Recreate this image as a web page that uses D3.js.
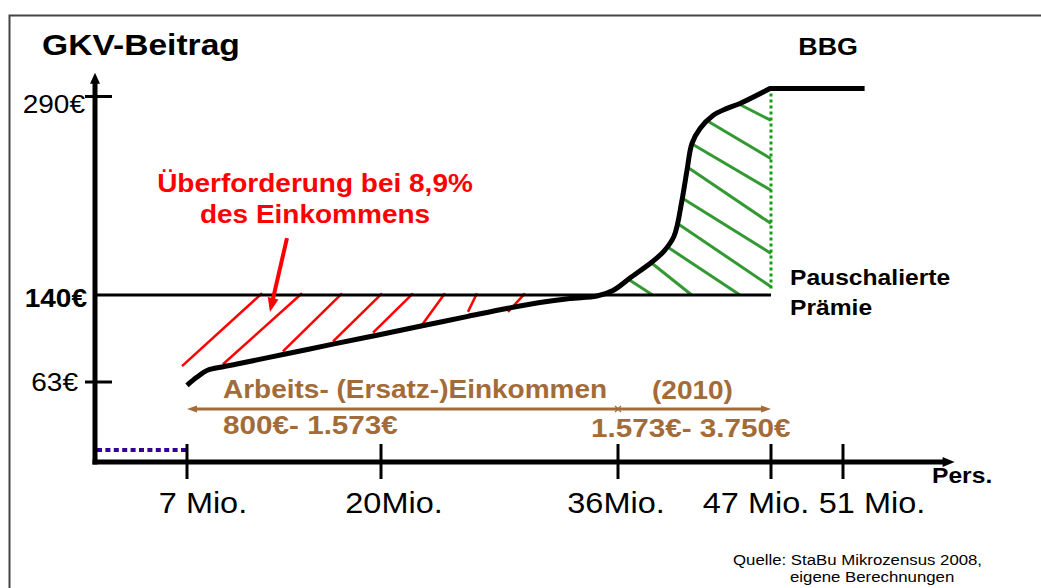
<!DOCTYPE html>
<html><head><meta charset="utf-8">
<script src="https://cdn.jsdelivr.net/npm/d3@7"></script>
<style>
html,body{margin:0;padding:0;background:#fff;}
svg{display:block;}
text{font-family:"Liberation Sans",Arial,Helvetica,sans-serif;}
</style>
</head><body>
<svg id="chart" width="1041" height="588"></svg>
<script>
// ---------------- data ----------------
const xTickValues = [7, 20, 36, 47, 51];
const xTickLabels = ["7 Mio.", "20Mio.", "36Mio.", "47 Mio.", "51 Mio."];
const yTickValues = [63, 140, 290];
const yTickLabels = ["63€", "140€", "290€"];

// GKV contribution curve (persons in Mio, contribution in €)
const contributionMio  = [7, 7.67, 8.41, 9.35, 10.35, 13.43, 16.78, 19.73, 22.63, 25.87, 28.57, 30.73, 32.76, 34.58, 35.66, 36.86, 38.44, 39.31, 40.03, 40.6, 40.96, 41.32, 41.9, 42.83, 43.84, 44.77, 46.93, 52.2];
const contributionEuro = [60.4, 67.4, 73.6, 76.3, 78.9, 87.3, 96.5, 104.4, 112.3, 121.1, 128.3, 133.4, 136.9, 139.1, 143.4, 152.8, 164.9, 173.2, 184.5, 211.6, 234.2, 254.6, 265.9, 275.7, 281.0, 284.7, 296, 296];

// flat premium ("Pauschalierte Prämie")
const premiumEuro = [140];
const premiumRangeMio = [0, 47];

// BBG border (dotted green)
const bbgMio = [47];
const bbgRangeEuro = [145, 296];

// family co-insured (dotted purple)
const coInsuredRangeMio = [0, 7];
const coInsuredEuro = [9.5];

// red hatching: overburden
const redHatchFromMio  = [6.62, 9.41, 13.43, 16.79, 19.47, 22.63, 25.87, 28.57];
const redHatchFromEuro = [77, 78.75, 90.1, 98.9, 106.75, 111.1, 125.1, 125.1];
const redHatchToMio    = [12.03, 14.71, 17.39, 20.07, 22.16, 24.32, 26.48, 29.72];
const redHatchToEuro   = [141.3, 141.3, 141.3, 141.3, 141.3, 141.3, 141.3, 141.3];

// green hatching
const greenHatchFromMio  = [36.63, 38.30, 39.54, 40.28, 40.66, 40.98, 41.30, 42.38, 44.65];
const greenHatchFromEuro = [152.6, 165.1, 176.4, 194, 212.9, 236.7, 254.3, 271.9, 284.5];
const greenHatchToMio    = [38.49, 41.30, 44.77, 47, 47, 47, 47, 47, 47];
const greenHatchToEuro   = [140, 140, 140, 146.3, 171.4, 194, 219.1, 243, 271.9];

// red pointer arrow
const pointerFrom = [13.7, 183];
const pointerTo   = [12.56, 125];

// income range arrows
const incomeFromMio = [36, 36];
const incomeToMio   = [7, 47];
const incomeLabels  = ["800€- 1.573€", "1.573€- 3.750€"];

// axis extents
const xAxisMaxMio = 57.2;
const yAxisMaxEuro = 308;

// ---------------- drawing ----------------
const svg = d3.select("#chart");
const SX = 1.12; // horizontal stretch of slide text

const x = d3.scaleLinear().domain([0, 7, 20, 36, 47, 51]).range([95, 187, 381, 618, 771, 843]);
const y = d3.scaleLinear().domain([0, 63, 140, 290]).range([462, 382, 295, 96.5]);

function label(sel, px, py, str, o) {
  const g = sel.append("g").attr("transform", `translate(${px},${py}) scale(${o.sx || SX},1)`);
  g.append("text")
    .attr("text-anchor", o.anchor || "start")
    .attr("font-size", o.size)
    .attr("font-weight", o.weight || "normal")
    .attr("fill", o.fill || "#000")
    .text(str);
  return g;
}

function arrowHead(sel, x1, y1, x2, y2, len, halfW, color) {
  const a = Math.atan2(y2 - y1, x2 - x1);
  const bx = x2 - len * Math.cos(a), by = y2 - len * Math.sin(a);
  const nx = -Math.sin(a) * halfW, ny = Math.cos(a) * halfW;
  sel.append("path")
    .attr("d", `M${x2},${y2}L${bx + nx},${by + ny}L${bx - nx},${by - ny}Z`)
    .attr("fill", color);
  return [x2 - (len - 1) * Math.cos(a), y2 - (len - 1) * Math.sin(a)];
}

// frame
svg.append("path").attr("d", "M9.5,600V15.5H1100")
  .attr("fill", "none").attr("stroke", "#444").attr("stroke-width", 2);

// red hatch
svg.append("g").selectAll("line").data(redHatchFromMio).join("line")
  .attr("x1", (d, i) => x(d)).attr("y1", (d, i) => y(redHatchFromEuro[i]))
  .attr("x2", (d, i) => x(redHatchToMio[i])).attr("y2", (d, i) => y(redHatchToEuro[i]))
  .attr("stroke", "#ff0000").attr("stroke-width", 2.5);

// green hatch
svg.append("g").selectAll("line").data(greenHatchFromMio).join("line")
  .attr("x1", (d, i) => x(d)).attr("y1", (d, i) => y(greenHatchFromEuro[i]))
  .attr("x2", (d, i) => x(greenHatchToMio[i])).attr("y2", (d, i) => y(greenHatchToEuro[i]))
  .attr("stroke", "#339933").attr("stroke-width", 3);

// premium line
svg.append("g").selectAll("line").data(premiumEuro).join("line")
  .attr("x1", x(premiumRangeMio[0])).attr("x2", x(premiumRangeMio[1]))
  .attr("y1", d => y(d)).attr("y2", d => y(d))
  .attr("stroke", "#000").attr("stroke-width", 3);

// BBG dotted
svg.append("g").selectAll("line").data(bbgMio).join("line")
  .attr("x1", d => x(d)).attr("x2", d => x(d))
  .attr("y1", y(bbgRangeEuro[0])).attr("y2", y(bbgRangeEuro[1]))
  .attr("stroke", "#11a011").attr("stroke-width", 3).attr("stroke-dasharray", "3,3");

// co-insured dotted
svg.append("g").selectAll("line").data(coInsuredEuro).join("line")
  .attr("x1", x(coInsuredRangeMio[0]) + 2).attr("x2", x(coInsuredRangeMio[1]))
  .attr("y1", d => y(d)).attr("y2", d => y(d))
  .attr("stroke", "#330099").attr("stroke-width", 4).attr("stroke-dasharray", "5,3.4");

// contribution curve: smooth rise, then flat at the BBG
const curvePts = contributionMio.map((m, i) => [m, contributionEuro[i]]);
const smooth = d3.line().x(d => x(d[0])).y(d => y(d[1])).curve(d3.curveCatmullRom.alpha(0.5));
const last = curvePts[curvePts.length - 1];
svg.append("path")
  .attr("d", smooth(curvePts.slice(0, -1)) + `L${x(last[0])},${y(last[1])}`)
  .attr("fill", "none").attr("stroke", "#000").attr("stroke-width", 5)
  .attr("stroke-linecap", "butt").attr("stroke-linejoin", "round");

// axes
const axisG = svg.append("g");
const y0px = y(0), x0px = x(0);
axisG.append("line").attr("x1", x0px).attr("x2", x0px).attr("y1", y0px + 2.5).attr("y2", y(yAxisMaxEuro) + 8)
  .attr("stroke", "#000").attr("stroke-width", 5);
arrowHead(axisG, x0px, y0px, x0px, y(yAxisMaxEuro), 11, 5, "#000");
axisG.append("line").attr("x1", x0px - 2.5).attr("x2", x(xAxisMaxMio) - 8).attr("y1", y0px).attr("y2", y0px)
  .attr("stroke", "#000").attr("stroke-width", 5);
arrowHead(axisG, x0px, y0px, x(xAxisMaxMio), y0px, 12, 5, "#000");

// x ticks
axisG.append("g").selectAll("line").data(xTickValues).join("line")
  .attr("x1", d => x(d)).attr("x2", d => x(d))
  .attr("y1", y0px - 18).attr("y2", y0px + 17)
  .attr("stroke", "#000").attr("stroke-width", 3);
const xLabelDx = [16, 13, -2, -15, 29];
xTickValues.forEach((v, i) => {
  label(svg, x(v) + xLabelDx[i], 513, xTickLabels[i], {size: 29, anchor: "middle"});
});

// y ticks
const yTickDraw = yTickValues.filter(v => v !== premiumEuro[0]);
axisG.append("g").selectAll("line").data(yTickDraw).join("line")
  .attr("x1", x0px - 10).attr("x2", x0px + 17)
  .attr("y1", d => y(d)).attr("y2", d => y(d))
  .attr("stroke", "#000").attr("stroke-width", 3);
const yLabelDx = [-17, -8, -10];
const yLabelDy = [9, 12, 16.5];
const yLabelBold = [false, true, false];
yTickValues.forEach((v, i) => {
  label(svg, x0px + yLabelDx[i], y(v) + yLabelDy[i], yTickLabels[i],
    {size: 25, anchor: "end", weight: yLabelBold[i] ? "bold" : "normal"});
});

// income range arrows
const brown = "#a26b38";
const incG = svg.append("g");
const arrowY = 409;
incomeFromMio.forEach((f, i) => {
  const x1 = x(f), x2 = x(incomeToMio[i]);
  const end = arrowHead(incG, x1, arrowY, x2, arrowY, 10, 3.5, brown);
  incG.append("line").attr("x1", x1).attr("x2", end[0]).attr("y1", arrowY).attr("y2", arrowY)
    .attr("stroke", brown).attr("stroke-width", 3);
});
incG.append("path").attr("d", `M${x(36) - 3},${arrowY - 3}L${x(36) + 3},${arrowY + 3}M${x(36) - 3},${arrowY + 3}L${x(36) + 3},${arrowY - 3}`)
  .attr("stroke", brown).attr("stroke-width", 1.2);

// red pointer
{
  const p1 = [x(pointerFrom[0]), y(pointerFrom[1])], p2 = [x(pointerTo[0]), y(pointerTo[1])];
  const end = arrowHead(svg, p1[0], p1[1], p2[0], p2[1], 14, 5.5, "#ff0000");
  svg.append("line").attr("x1", p1[0]).attr("y1", p1[1]).attr("x2", end[0]).attr("y2", end[1])
    .attr("stroke", "#ff0000").attr("stroke-width", 4);
}

// texts
label(svg, 42, 55, "GKV-Beitrag", {size: 30, weight: "bold"});
label(svg, 858, 55, "BBG", {size: 24, weight: "bold", anchor: "end"});
label(svg, 315, 192, "Überforderung bei 8,9%", {size: 25, weight: "bold", fill: "#ff0000", anchor: "middle"});
label(svg, 315, 223, "des Einkommens", {size: 25, weight: "bold", fill: "#ff0000", anchor: "middle"});
label(svg, 790, 285, "Pauschalierte", {size: 22, weight: "bold"});
label(svg, 790, 315, "Prämie", {size: 22, weight: "bold"});
label(svg, 223, 398, "Arbeits- (Ersatz-)Einkommen", {size: 25, weight: "bold", fill: brown});
label(svg, 652, 399, "(2010)", {size: 25, weight: "bold", fill: brown});
label(svg, 223, 434, incomeLabels[0], {size: 26.5, weight: "bold", fill: brown});
label(svg, 591, 437, incomeLabels[1], {size: 26.5, weight: "bold", fill: brown});
label(svg, 932, 483, "Pers.", {size: 22, weight: "bold"});
label(svg, 733, 565, "Quelle: StaBu Mikrozensus 2008,", {size: 15});
label(svg, 790, 582, "eigene Berechnungen", {size: 15});
</script>
</body></html>
